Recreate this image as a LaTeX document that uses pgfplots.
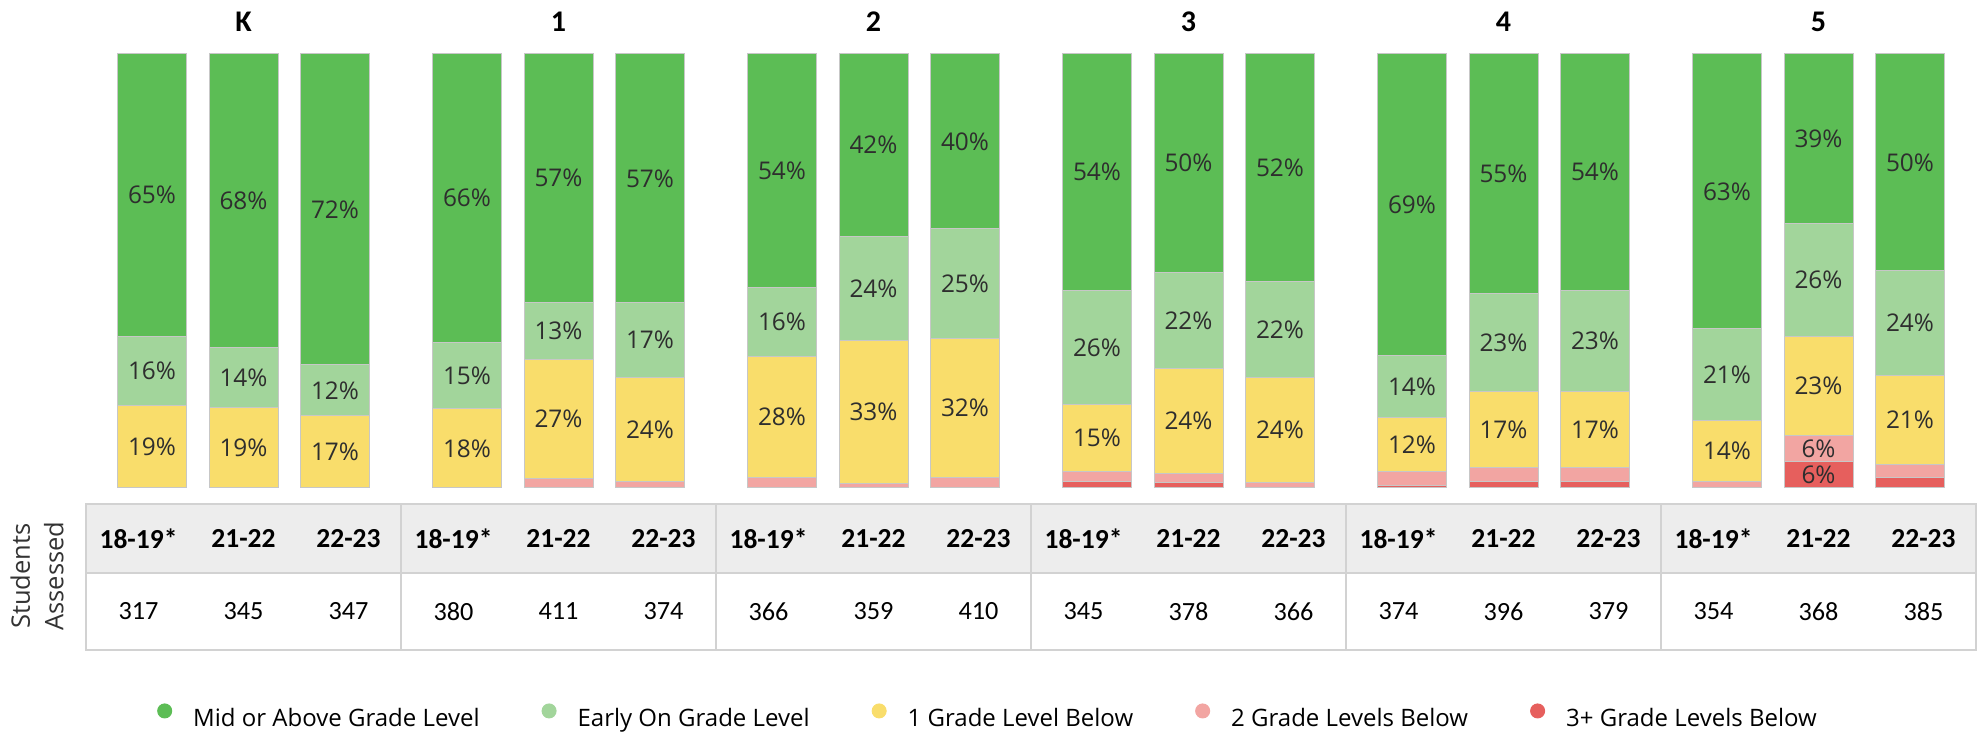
\documentclass[border=0pt]{standalone}
\usepackage{fontspec}
\setmainfont{Open Sans}
\newfontfamily\carlito{Carlito}
\usepackage{pgfplots}
\usepackage{pgfplotstable}
\pgfplotsset{compat=1.18}

\definecolor{midc}{HTML}{5CBD55}
\definecolor{earlyc}{HTML}{A2D59B}
\definecolor{onec}{HTML}{F9DD6B}
\definecolor{twoc}{HTML}{F2A5A2}
\definecolor{threec}{HTML}{E65F5D}
\definecolor{gridc}{HTML}{D2D2D2}
\definecolor{headc}{HTML}{EDEDED}
\definecolor{labelc}{HTML}{2E2E2E}

% reading levels in percent; g = grade (K = 0 ... 5), j = year (0 = 18-19*, 1 = 21-22, 2 = 22-23)
\pgfplotstableread{
g j mid early one two three
0 0 65.0 16.0 19.0 0.0 0.0
0 1 67.6 13.8 18.6 0.0 0.0
0 2 71.6 11.8 16.6 0.0 0.0
1 0 66.4 15.4 18.2 0.0 0.0
1 1 57.2 13.3 27.3 2.2 0.0
1 2 57.3 17.2 24.1 1.4 0.0
2 0 53.8 15.9 27.8 2.5 0.0
2 1 42.0 24.0 33.0 1.0 0.0
2 2 40.3 25.2 32.0 2.5 0.0
3 0 54.4 26.4 15.4 2.4 1.4
3 1 50.3 22.2 24.2 2.0 1.3
3 2 52.4 22.1 24.2 1.3 0.0
4 0 69.4 14.4 12.4 3.3 0.5
4 1 55.2 22.6 17.4 3.3 1.5
4 2 54.4 23.4 17.4 3.3 1.5
5 0 63.3 21.2 14.0 1.5 0.0
5 1 39.0 26.0 23.0 6.0 6.0
5 2 50.0 24.0 20.6 3.1 2.3
}\levels

% label heights: middle of each stacked segment
\pgfplotstablecreatecol[create col/expr={0.5*\thisrow{three}}]{threepos}{\levels}
\pgfplotstablecreatecol[create col/expr={\thisrow{three}+0.5*\thisrow{two}}]{twopos}{\levels}
\pgfplotstablecreatecol[create col/expr={\thisrow{three}+\thisrow{two}+0.5*\thisrow{one}}]{onepos}{\levels}
\pgfplotstablecreatecol[create col/expr={\thisrow{three}+\thisrow{two}+\thisrow{one}+0.5*\thisrow{early}}]{earlypos}{\levels}
\pgfplotstablecreatecol[create col/expr={\thisrow{three}+\thisrow{two}+\thisrow{one}+\thisrow{early}+0.5*\thisrow{mid}}]{midpos}{\levels}

% students assessed, one column per grade and year
\pgfplotstableread{
c yr n
0 18-19* 317
1 21-22 345
2 22-23 347
3 18-19* 380
4 21-22 411
5 22-23 374
6 18-19* 366
7 21-22 359
8 22-23 410
9 18-19* 345
10 21-22 378
11 22-23 366
12 18-19* 374
13 21-22 396
14 22-23 379
15 18-19* 354
16 21-22 368
17 22-23 385
}\assessed

\pgfplotstableread{
g name
0 K
1 1
2 2
3 3
4 4
5 5
}\grades

\pgfplotsset{
  canvas/.style={scale only axis, width=792.8pt, height=292.4pt,
    xmin=0, xmax=1982, ymin=-56, ymax=112.44, hide axis, clip=false},
  seg/.style={fill=#1, draw=black!22, line width=0.4pt},
  barx/.style={/pgfplots/table/x expr={243.5+315*\thisrow{g}+91.5*(\thisrow{j}-1)}},
  pct/.style={forget plot, draw=none, mark=none, point meta=explicit,
    nodes near coords={\pgfmathprintnumber[fixed,precision=0]{\pgfplotspointmeta}\%},
    every node near coord/.append style={anchor=center, inner sep=0pt,
      font=\fontsize{9.75}{12}\selectfont, text=labelc}},
  txt/.style={forget plot, draw=none, mark=none, point meta=explicit symbolic,
    nodes near coords={\pgfplotspointmeta},
    every node near coord/.append style={anchor=center, inner sep=0pt, #1}},
}

\begin{document}
\begin{tikzpicture}
% stacked bars, lowest level at the bottom
\begin{axis}[canvas, ybar stacked, bar width=27.6pt]
\addplot[seg=threec] table[/pgfplots/barx, y=three] {\levels};
\addplot[seg=twoc]   table[/pgfplots/barx, y=two]   {\levels};
\addplot[seg=onec]   table[/pgfplots/barx, y=one]   {\levels};
\addplot[seg=earlyc] table[/pgfplots/barx, y=early] {\levels};
\addplot[seg=midc]   table[/pgfplots/barx, y=mid]   {\levels};
\end{axis}

% labels, table of students assessed and legend
\begin{axis}[canvas, /pgf/number format/assume math mode=true,
  legend columns=5,
  legend style={at={(axis cs:987,-52.76)}, anchor=center, draw=none, fill=none,
    inner sep=0pt, outer sep=0pt,
    font=\fontsize{9.6}{11}\selectfont, nodes={inner sep=0pt},
    /tikz/every odd column/.append style={column sep=8.4pt},
    /tikz/every even column/.append style={column sep=24.8pt}}]
\path (axis cs:0,-56) rectangle (axis cs:1982,112.44);

\fill[headc] (axis cs:86,-3.69) rectangle (axis cs:1976,-19.59);
\draw[gridc, line width=0.8pt] (axis cs:86,-19.59) -- (axis cs:1976,-19.59);
\pgfplotsinvokeforeach{401,716,1031,1346,1661}{
  \draw[gridc, line width=0.8pt] (axis cs:#1,-3.69) -- (axis cs:#1,-37.33);
}
\draw[gridc, line width=0.8pt] (axis cs:86,-3.69) rectangle (axis cs:1976,-37.33);

\node[rotate=90, align=center, text=black!80,
  font=\fontsize{10.2}{13.4}\selectfont] at (axis cs:37,-20.28) {Students\\Assessed};

\addplot[pct] table[/pgfplots/barx, y=midpos, meta=mid] {\levels};
\addplot[pct] table[/pgfplots/barx, y=earlypos, meta=early] {\levels};
\addplot[pct] table[/pgfplots/barx, y=onepos, meta=one] {\levels};
\addplot[pct, restrict expr to domain={\thisrow{two}}{5:100}] table[/pgfplots/barx, y=twopos, meta=two] {\levels};
\addplot[pct, restrict expr to domain={\thisrow{three}}{5:100}] table[/pgfplots/barx, y=threepos, meta=three] {\levels};

\addplot[txt={font=\carlito\bfseries\fontsize{12}{14}\selectfont}]
  table[x expr={243.5+315*\thisrow{g}}, y expr=107.37, meta=name] {\grades};
\addplot[txt={font=\carlito\bfseries\fontsize{11}{13}\selectfont}]
  table[x expr={138.5+105*\thisrow{c}}, y expr=-11.64, meta=yr] {\assessed};
\addplot[txt={font=\carlito\fontsize{10.5}{12}\selectfont}]
  table[x expr={138.5+105*\thisrow{c}}, y expr=-28.46, meta=n] {\assessed};

\addlegendimage{legend image code/.code={\fill[midc] (2.8pt,3.4pt) circle (2.8pt);}}
\addlegendimage{legend image code/.code={\fill[earlyc] (2.8pt,3.4pt) circle (2.8pt);}}
\addlegendimage{legend image code/.code={\fill[onec] (2.8pt,3.4pt) circle (2.8pt);}}
\addlegendimage{legend image code/.code={\fill[twoc] (2.8pt,3.4pt) circle (2.8pt);}}
\addlegendimage{legend image code/.code={\fill[threec] (2.8pt,3.4pt) circle (2.8pt);}}
\legend{Mid or Above Grade Level, Early On Grade Level, 1 Grade Level Below,
  2 Grade Levels Below, 3+ Grade Levels Below}
\end{axis}
\end{tikzpicture}
\end{document}
